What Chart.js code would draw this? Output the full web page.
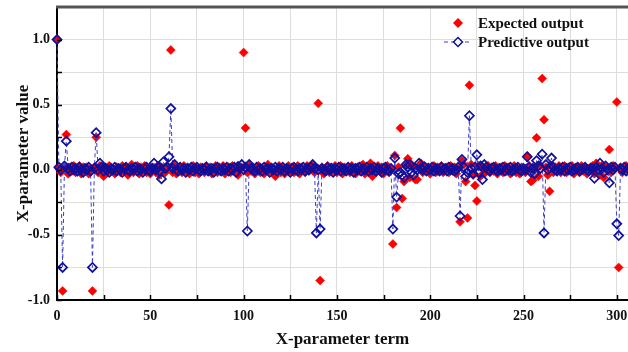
<!DOCTYPE html>
<html>
<head>
<meta charset="utf-8">
<script src="https://cdn.jsdelivr.net/npm/chart.js@4.4.1/dist/chart.umd.min.js"></script>
<style>
  html, body { margin: 0; padding: 0; background: #fff; overflow: hidden; }
  #wrap { width: 628px; height: 352px; }
</style>
</head>
<body>
<div id="wrap"><canvas id="chart" width="628" height="352"></canvas></div>
<script>
// valori, un termine per indice (0..306)
const expectedOutput = [
  1.0, 0.01, -0.02, -0.93, 0.02, 0.27, -0.03, 0.02, -0.01, 0.03,
  -0.02, 0.01, 0.03, -0.03, 0.02, -0.01, 0.02, -0.03, 0.01, -0.93,
  0.02, 0.25, -0.02, 0.03, 0.01, -0.05, 0.02, -0.02, 0.03, -0.01,
  0.01, -0.03, 0.02, 0.0, -0.02, 0.03, -0.01, 0.02, -0.04, 0.01,
  0.04, -0.02, 0.01, 0.03, -0.03, 0.02, -0.01, 0.03, -0.02, 0.01,
  -0.03, 0.02, 0.01, -0.02, 0.03, -0.04, 0.02, 0.01, -0.02, 0.03,
  -0.27, 0.92, -0.02, 0.03, -0.03, 0.01, 0.02, -0.02, 0.03, -0.01,
  0.02, -0.03, 0.01, 0.03, -0.02, 0.01, -0.03, 0.02, 0.0, -0.02,
  0.03, -0.01, 0.02, -0.03, 0.01, 0.03, -0.02, 0.02, -0.01, 0.03,
  -0.03, 0.01, 0.02, -0.02, 0.03, -0.01, 0.02, -0.04, 0.01, 0.02,
  0.90, 0.32, -0.02, 0.03, -0.01, 0.02, -0.03, 0.01, 0.03, -0.02,
  0.01, -0.03, 0.02, 0.04, -0.01, 0.02, -0.02, -0.05, 0.01, 0.03,
  -0.02, 0.02, -0.03, 0.01, 0.03, -0.01, 0.02, -0.02, 0.01, 0.03,
  -0.03, 0.02, 0.0, -0.02, 0.03, -0.01, 0.02, 0.03, -0.02, 0.01,
  0.51, -0.85, 0.02, -0.03, 0.01, 0.03, -0.02, 0.02, -0.01, 0.03,
  -0.02, 0.01, 0.03, -0.03, 0.02, -0.01, 0.02, -0.02, 0.03, 0.01,
  -0.03, 0.02, -0.01, 0.03, 0.04, -0.03, 0.01, -0.02, 0.05, -0.05,
  0.02, -0.02, 0.03, -0.01, 0.02, -0.03, 0.01, 0.03, -0.02, 0.01,
  -0.57, 0.11, -0.29, 0.02, 0.32, -0.22, -0.09, 0.03, 0.085, -0.06,
  0.04, 0.015, -0.075, -0.075, 0.03, 0.05, -0.02, 0.03, -0.01, 0.02,
  -0.03, 0.01, 0.03, -0.02, 0.02, -0.01, 0.03, -0.02, 0.01, 0.02,
  -0.02, 0.03, -0.01, 0.02, -0.03, 0.01, -0.40, 0.07, 0.04, -0.09,
  -0.37, 0.65, 0.04, -0.04, -0.12, -0.24, 0.03, -0.05, 0.02, -0.03,
  0.01, 0.03, -0.02, 0.02, -0.01, 0.03, -0.03, 0.01, 0.02, -0.02,
  0.03, -0.01, 0.02, -0.03, 0.01, 0.03, -0.02, 0.01, -0.03, 0.02,
  0.01, -0.02, 0.105, 0.03, -0.09, -0.08, 0.02, 0.245, -0.05, 0.03,
  0.70, 0.385, 0.02, -0.04, -0.165, 0.03, -0.02, 0.02, -0.01, 0.03,
  -0.02, 0.01, 0.03, -0.02, 0.02, -0.01, 0.03, -0.03, 0.01, 0.02,
  -0.02, 0.03, -0.01, 0.02, -0.03, 0.01, 0.02, 0.03, -0.03, 0.05,
  0.02, -0.04, 0.03, -0.06, 0.02, 0.01, 0.155, -0.02, 0.03, 0.01,
  0.52, -0.75, 0.02, -0.02, 0.01, 0.03, -0.01
];

const predictiveOutput = [
  1.0, 0.02, 0.0, -0.75, 0.03, 0.22, 0.01, -0.01, 0.02, 0.0,
  0.01, -0.01, 0.02, 0.0, -0.02, 0.01, 0.0, 0.02, -0.01, -0.75,
  0.01, 0.285, 0.0, 0.05, 0.02, -0.01, 0.01, 0.0, -0.02, 0.01,
  0.0, 0.02, -0.01, 0.01, 0.0, -0.02, 0.01, 0.02, 0.0, -0.01,
  0.01, 0.0, 0.02, -0.01, 0.01, 0.0, -0.02, 0.01, 0.02, 0.0,
  -0.01, 0.01, 0.05, 0.0, 0.02, -0.01, -0.07, 0.06, 0.01, 0.02,
  0.10, 0.47, 0.01, 0.04, 0.0, -0.01, 0.02, 0.0, 0.01, -0.02,
  0.01, 0.0, 0.02, -0.01, 0.01, 0.02, 0.0, -0.01, 0.01, 0.0,
  0.02, -0.01, 0.0, 0.01, -0.02, 0.01, 0.02, 0.0, -0.01, 0.01,
  0.0, 0.02, -0.01, 0.01, 0.0, 0.02, -0.02, 0.025, 0.01, 0.04,
  0.0, 0.02, -0.47, 0.04, 0.01, 0.0, -0.01, 0.02, 0.0, 0.01,
  -0.01, 0.02, 0.0, 0.01, -0.02, 0.01, 0.0, 0.02, -0.01, 0.01,
  0.0, 0.02, -0.01, 0.01, 0.0, -0.02, 0.01, 0.02, 0.0, -0.01,
  0.01, 0.0, 0.02, -0.01, 0.01, 0.0, 0.02, 0.04, 0.01, -0.485,
  0.0, -0.455, 0.01, 0.0, -0.01, 0.02, 0.0, 0.01, -0.02, 0.01,
  0.0, 0.02, -0.01, 0.01, 0.0, -0.01, 0.02, 0.0, 0.01, -0.02,
  0.01, 0.0, 0.02, -0.01, 0.01, 0.0, 0.02, -0.01, 0.01, 0.0,
  0.02, -0.01, 0.01, 0.0, -0.02, 0.01, 0.02, 0.0, -0.01, 0.01,
  -0.455, 0.09, -0.21, -0.03, -0.02, -0.04, -0.06, 0.04, 0.02, 0.04,
  -0.02, -0.04, 0.01, 0.0, 0.05, 0.01, 0.0, 0.02, -0.01, 0.01,
  0.0, 0.02, -0.01, 0.01, 0.0, -0.01, 0.02, 0.0, 0.01, -0.01,
  0.02, 0.0, 0.01, -0.01, 0.0, 0.02, -0.355, 0.08, 0.02, -0.05,
  -0.02, 0.415, 0.01, -0.03, 0.02, 0.115, -0.02, 0.03, -0.075, 0.04,
  0.02, 0.0, -0.01, 0.01, 0.02, 0.0, -0.01, 0.01, 0.0, 0.02,
  -0.01, 0.01, 0.0, 0.02, -0.01, 0.0, 0.01, 0.02, 0.0, -0.01,
  0.01, 0.0, 0.10, 0.02, -0.02, 0.01, -0.03, 0.07, 0.03, 0.01,
  0.12, -0.485, 0.04, 0.0, 0.02, 0.09, 0.02, 0.0, -0.01, 0.01,
  0.0, 0.02, -0.01, 0.01, 0.0, 0.02, -0.01, 0.0, 0.01, 0.02,
  -0.01, 0.0, 0.01, 0.02, 0.0, -0.01, 0.01, 0.01, -0.065, 0.02,
  0.0, 0.05, 0.01, -0.02, 0.03, 0.0, -0.10, 0.02, 0.0, 0.02,
  -0.415, -0.505, 0.01, 0.0, 0.02, -0.01, 0.01
];

const xTicks = [0, 25, 50, 75, 100, 125, 150, 175, 200, 225, 250, 275, 300];
const xLabels = [0, 50, 100, 150, 200, 250, 300];
const yTicks = [-1, -0.75, -0.5, -0.25, 0, 0.25, 0.5, 0.75, 1];
const yLabels = [-1, -0.5, 0, 0.5, 1];

const terms = expectedOutput.map((_, i) => i);
const toPoints = arr => arr.map((v, i) => ({ x: terms[i], y: v }));

const RED = '#ff0000';
const BLUE = '#10109c';
const BLUE_LINE = '#3c3cd2';
const SERIF = '"Liberation Serif", "Times New Roman", serif';

// cornice superiore, tacche interne e legenda dentro l'area del grafico
const frame = {
  id: 'frame',
  afterDraw(chart) {
    const { ctx, chartArea: a, scales: { x, y } } = chart;
    ctx.save();

    ctx.strokeStyle = '#555';
    ctx.lineWidth = 3;
    ctx.beginPath();
    ctx.moveTo(a.left - 1, a.top);
    ctx.lineTo(a.right, a.top);
    ctx.stroke();

    ctx.strokeStyle = '#000';
    ctx.lineWidth = 1.5;
    xTicks.forEach(v => {
      const px = Math.round(x.getPixelForValue(v)) + 0.5;
      ctx.beginPath();
      ctx.moveTo(px, a.bottom);
      ctx.lineTo(px, a.bottom - 5);
      ctx.stroke();
    });
    yTicks.forEach(v => {
      const py = Math.round(y.getPixelForValue(v)) + 0.5;
      ctx.beginPath();
      ctx.moveTo(a.left, py);
      ctx.lineTo(a.left + 5, py);
      ctx.stroke();
    });

    // legenda
    const lx = a.right - 170;
    const rows = [a.top + 16, a.top + 35];
    const diamond = (cx, cy, r) => {
      ctx.beginPath();
      ctx.moveTo(cx - r, cy);
      ctx.lineTo(cx, cy - r);
      ctx.lineTo(cx + r, cy);
      ctx.lineTo(cx, cy + r);
      ctx.closePath();
    };
    ctx.fillStyle = RED;
    diamond(lx, rows[0], 5);
    ctx.fill();

    ctx.strokeStyle = BLUE_LINE;
    ctx.lineWidth = 1;
    ctx.setLineDash([4, 3]);
    ctx.beginPath();
    ctx.moveTo(lx - 14, rows[1]);
    ctx.lineTo(lx + 14, rows[1]);
    ctx.stroke();
    ctx.setLineDash([]);
    ctx.fillStyle = '#fff';
    diamond(lx, rows[1], 4.5);
    ctx.fill();
    ctx.strokeStyle = BLUE;
    ctx.lineWidth = 1.5;
    ctx.stroke();

    ctx.fillStyle = '#111';
    ctx.font = 'bold 15px ' + SERIF;
    ctx.textBaseline = 'middle';
    ctx.textAlign = 'left';
    ctx.fillText('Expected output', lx + 20, rows[0] + 1);
    ctx.fillText('Predictive output', lx + 20, rows[1] + 1);

    ctx.restore();
  }
};

new Chart(document.getElementById('chart'), {
  type: 'scatter',
  data: {
    datasets: [
      {
        label: 'Expected output',
        data: toPoints(expectedOutput),
        showLine: false,
        pointStyle: 'rectRot',
        pointRadius: 4.5,
        pointBackgroundColor: RED,
        pointBorderColor: RED,
        pointBorderWidth: 0.5,
        order: 2,
        clip: false,
      },
      {
        label: 'Predictive output',
        data: toPoints(predictiveOutput),
        showLine: true,
        borderColor: BLUE_LINE,
        borderWidth: 1,
        borderDash: [4, 3],
        tension: 0,
        pointStyle: 'rectRot',
        pointRadius: 4.5,
        pointBackgroundColor: 'rgba(0,0,0,0)',
        pointBorderColor: BLUE,
        pointBorderWidth: 1.7,
        order: 1,
        clip: false,
      },
    ],
  },
  options: {
    responsive: false,
    animation: false,
    devicePixelRatio: 1,
    events: [],
    layout: { autoPadding: false, padding: { top: 7, right: 0, bottom: 0, left: 0 } },
    plugins: {
      legend: { display: false },
      tooltip: { enabled: false },
    },
    scales: {
      x: {
        type: 'linear',
        min: 0,
        max: 306,
        afterBuildTicks: s => { s.ticks = xTicks.map(v => ({ value: v })); },
        afterFit: s => { s.height = 52; s.paddingLeft = 0; s.paddingRight = 0; },
        grid: { color: '#dddddd', lineWidth: 1, drawTicks: false },
        border: { display: true, color: '#000', width: 2 },
        ticks: {
          padding: 8,
          color: '#111',
          font: { family: SERIF, size: 14, weight: 'bold' },
          maxRotation: 0,
          autoSkip: false,
          callback: v => (xLabels.includes(v) ? String(v) : ''),
        },
        title: {
          display: true,
          text: 'X-parameter term',
          color: '#111',
          font: { family: SERIF, size: 17, weight: 'bold' },
          padding: { top: 0, bottom: 2 },
        },
      },
      y: {
        type: 'linear',
        min: -1,
        max: 1.25,
        afterBuildTicks: s => { s.ticks = yTicks.map(v => ({ value: v })); },
        afterFit: s => { s.width = 57; s.paddingTop = 0; s.paddingBottom = 0; },
        grid: { color: '#dddddd', lineWidth: 1, drawTicks: false },
        border: { display: true, color: '#000', width: 2 },
        ticks: {
          padding: 7,
          color: '#111',
          font: { family: SERIF, size: 14, weight: 'bold' },
          autoSkip: false,
          callback: v => (yLabels.includes(v) ? v.toFixed(1) : ''),
        },
        title: {
          display: true,
          text: 'X-parameter value',
          color: '#111',
          font: { family: SERIF, size: 17, weight: 'bold' },
          padding: { top: 13, bottom: 0 },
        },
      },
    },
  },
  plugins: [frame],
});
</script>
</body>
</html>
